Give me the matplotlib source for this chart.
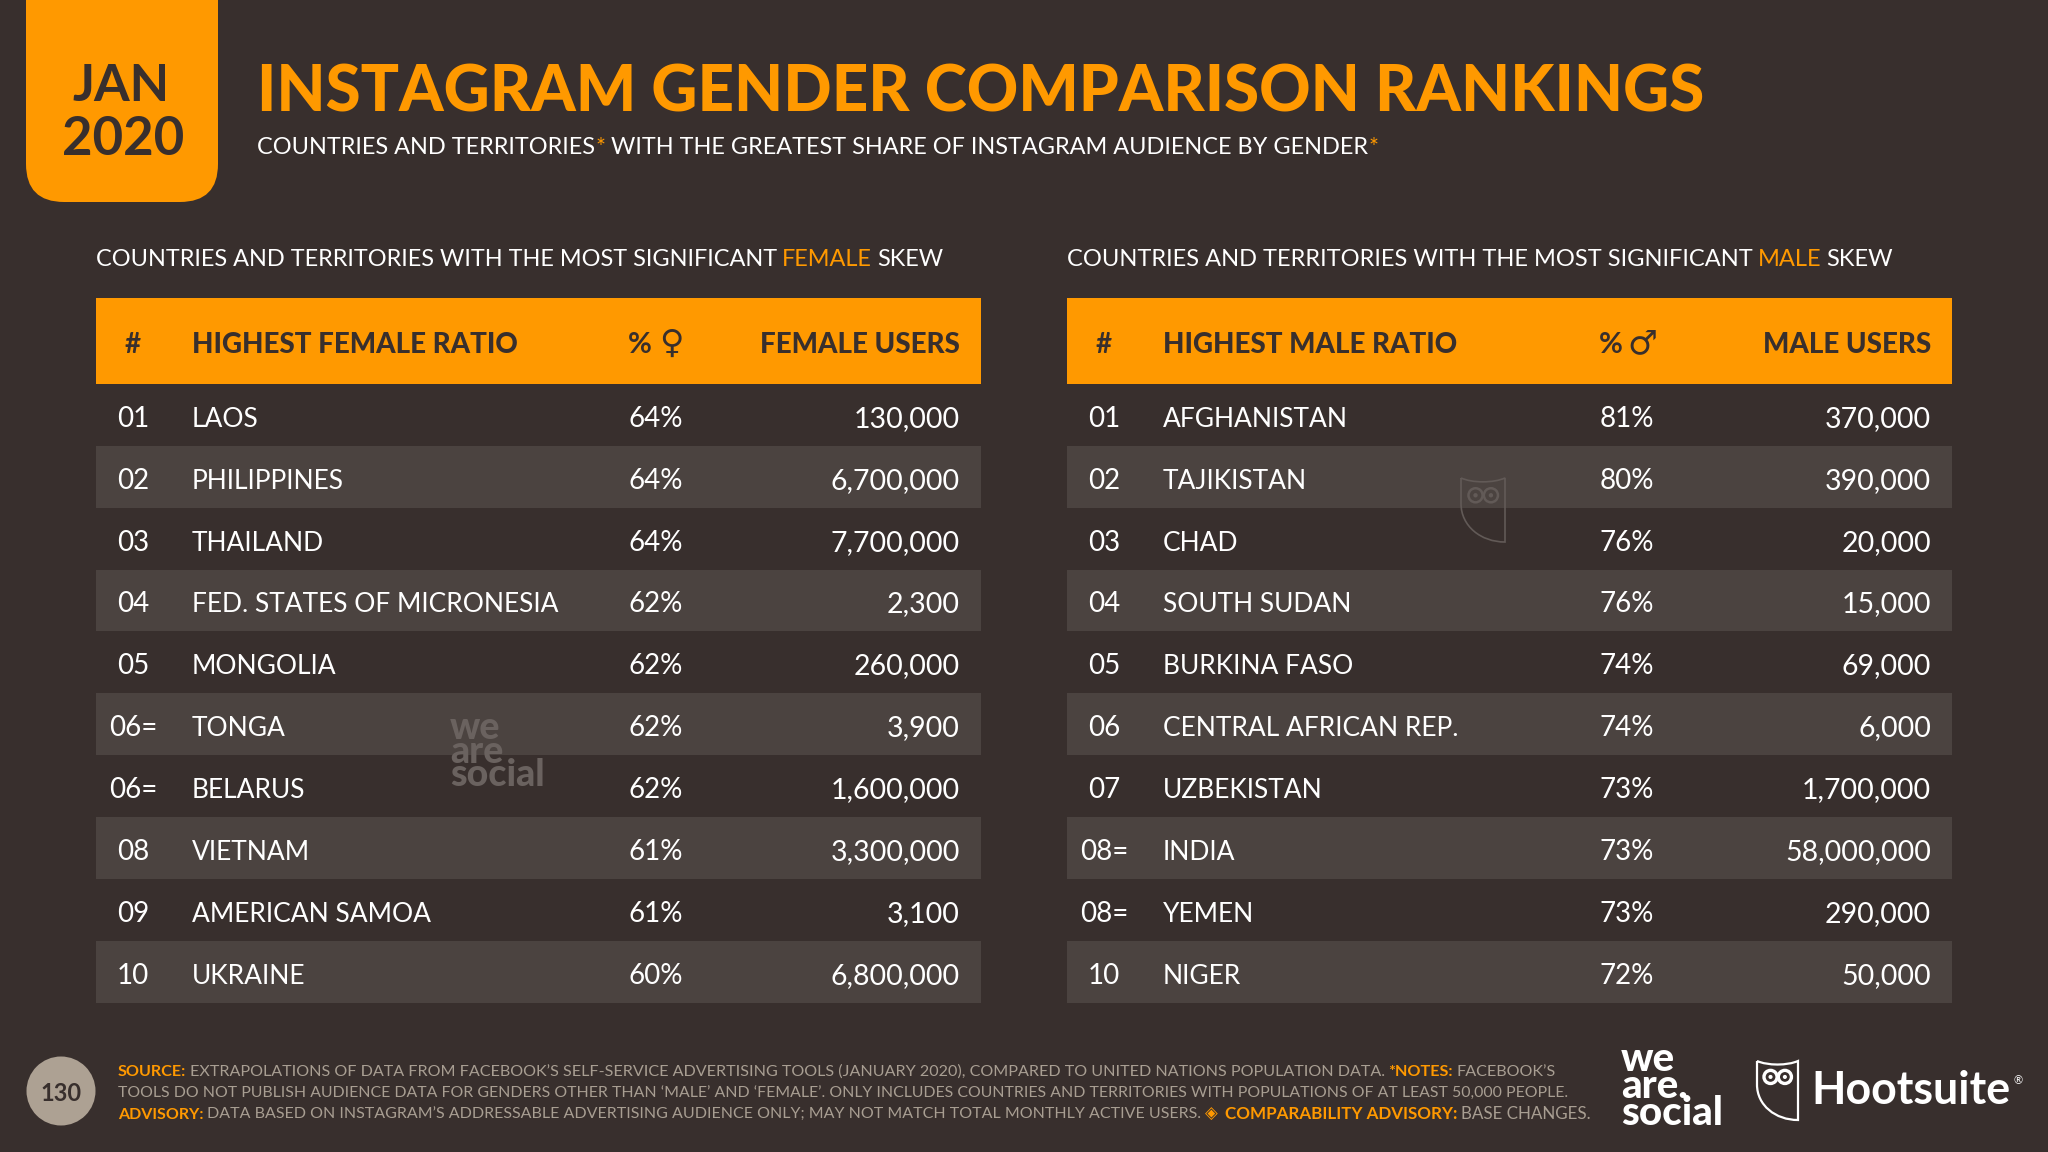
import matplotlib
matplotlib.use("Agg")
import matplotlib.pyplot as plt
from matplotlib.patches import Rectangle, FancyBboxPatch, Circle, PathPatch
from matplotlib.path import Path

BG = "#382F2D"
ORANGE = "#FF9900"
BAND = "#4B4340"
WHITE = "#FFFFFF"
GREY = "#A89E92"
FONT = "Lato"

ranks_f = ["01", "02", "03", "04", "05", "06=", "06=", "08", "09", "10"]
countries_f = ["LAOS", "PHILIPPINES", "THAILAND", "FED. STATES OF MICRONESIA", "MONGOLIA",
               "TONGA", "BELARUS", "VIETNAM", "AMERICAN SAMOA", "UKRAINE"]
pct_f = [64, 64, 64, 62, 62, 62, 62, 61, 61, 60]
users_f = [130000, 6700000, 7700000, 2300, 260000, 3900, 1600000, 3300000, 3100, 6800000]

ranks_m = ["01", "02", "03", "04", "05", "06", "07", "08=", "08=", "10"]
countries_m = ["AFGHANISTAN", "TAJIKISTAN", "CHAD", "SOUTH SUDAN", "BURKINA FASO",
               "CENTRAL AFRICAN REP.", "UZBEKISTAN", "INDIA", "YEMEN", "NIGER"]
pct_m = [81, 80, 76, 76, 74, 74, 73, 73, 73, 72]
users_m = [370000, 390000, 20000, 15000, 69000, 6000, 1700000, 58000000, 290000, 50000]

fig = plt.figure(figsize=(20.48, 11.52), dpi=100, facecolor=BG)
ax = fig.add_axes([0, 0, 1, 1])
ax.set_xlim(0, 2048)
ax.set_ylim(1152, 0)
ax.axis("off")
renderer = fig.canvas.get_renderer()


def put(x, y, s, size, color=WHITE, weight="normal", ha="left", **kw):
    return ax.text(x, y, s, fontsize=size, color=color, fontweight=weight, ha=ha, va="baseline",
                   family=kw.pop("family", FONT), zorder=kw.pop("zorder", 5), **kw)


def run(x, y, segs, size, end=None):
    # segs are (text, colour, weight), drawn one after the other; if end is
    # given the size gets adjusted so the line stops there
    items = [put(x, y, s, size, c, w) for s, c, w in segs]
    gaps = [0.05 if s == "*" else 0.3 for s, c, w in segs[1:]] + [0]

    def widths():
        return [t.get_window_extent(renderer).width for t in items]
    if end is not None:
        for _ in range(3):
            total = sum(widths()) + sum(gaps) * size
            size = size * (end - x) / total
            for t in items:
                t.set_fontsize(size)
    cx = x
    for t, w, g in zip(items, widths(), gaps):
        t.set_x(cx)
        cx += w + g * size


def owl(x0, y0, w, h, color, lw, zorder=3):
    pts = [(0, 0), (0.2, 0.06), (0.5, 0.06), (0.8, 0.06), (1, 0), (1, 1), (0.45, 1), (0, 0.75), (0, 0.4), (0, 0)]
    codes = [Path.MOVETO, Path.CURVE3, Path.CURVE3, Path.CURVE3, Path.CURVE3,
             Path.LINETO, Path.CURVE4, Path.CURVE4, Path.CURVE4, Path.LINETO]
    verts = [(x0 + px * w, y0 + py * h) for px, py in pts]
    ax.add_patch(PathPatch(Path(verts, codes), fc="none", ec=color, lw=lw, zorder=zorder))
    for ex in (0.33, 0.68):
        ax.add_patch(Circle((x0 + ex * w, y0 + 0.27 * h), 0.16 * w, fc="none", ec=color, lw=lw * 1.5, zorder=zorder))
        ax.add_patch(Circle((x0 + ex * w, y0 + 0.27 * h), 0.05 * w, fc=color, ec="none", zorder=zorder))


def table(x0, ranks, countries, pcts, users, name_head, users_head, symbol):
    width = 885
    head_top, head_bottom = 298, 384
    pitch = 61.85
    ax.add_patch(Rectangle((x0, head_top), width, head_bottom - head_top, fc=ORANGE, ec="none", zorder=1))
    put(x0 + 37, 353, "#", 20, BG, "bold", ha="center")
    put(x0 + 96, 353, name_head, 20, BG, "black")
    put(x0 + 532, 353, "%", 21, BG, "bold")
    put(x0 + 575, 353, symbol, 24, BG, "normal", ha="center", family="DejaVu Sans")
    put(x0 + 864, 353, users_head, 20, BG, "black", ha="right")
    for i in range(len(ranks)):
        top = head_bottom + i * pitch
        if i % 2 == 1:
            ax.add_patch(Rectangle((x0, top), width, pitch, fc=BAND, ec="none", zorder=1))
        base = top + pitch / 2 + 12
        put(x0 + 37, base, ranks[i], 20, ha="center")
        put(x0 + 96, base, countries[i], 19)
        put(x0 + 560, base, f"{pcts[i]}%", 20, ha="center")
        put(x0 + 864, base, f"{users[i]:,}", 20.5, ha="right")


# date tab
ax.add_patch(FancyBboxPatch((26, -60), 192, 262, boxstyle="round,pad=0,rounding_size=38", fc=ORANGE, ec="none", zorder=1))
put(121, 101, "JAN", 37, BG, "bold", ha="center")
put(123, 155, "2020", 38, BG, "bold", ha="center")

# title block
run(257, 112, [("INSTAGRAM GENDER COMPARISON RANKINGS", ORANGE, "black")], 46, end=1707)
run(257, 154, [("COUNTRIES AND TERRITORIES", WHITE, "normal"), ("*", ORANGE, "normal"),
               ("WITH THE GREATEST SHARE OF INSTAGRAM AUDIENCE BY GENDER", WHITE, "normal"), ("*", ORANGE, "normal")],
    18, end=1380)

run(96, 266, [("COUNTRIES AND TERRITORIES WITH THE MOST SIGNIFICANT", WHITE, "normal"), ("FEMALE", ORANGE, "normal"),
              ("SKEW", WHITE, "normal")], 18, end=945)
run(1067, 266, [("COUNTRIES AND TERRITORIES WITH THE MOST SIGNIFICANT", WHITE, "normal"), ("MALE", ORANGE, "normal"),
                ("SKEW", WHITE, "normal")], 18, end=1891)

table(96, ranks_f, countries_f, pct_f, users_f, "HIGHEST FEMALE RATIO", "FEMALE USERS", "\u2640")
table(1067, ranks_m, countries_m, pct_m, users_m, "HIGHEST MALE RATIO", "MALE USERS", "\u2642")

# watermarks
put(450, 786, "we\nare\nsocial", 27, "#6A625F", "black", zorder=2, linespacing=0.62)
owl(1461, 478, 44, 64, "#625A57", 1.2, zorder=2)

# footer
ax.add_patch(Circle((61, 1091), 34.5, fc="#ADA193", ec="none", zorder=1))
put(61, 1101, "130", 17, BG, "bold", ha="center")
run(118, 1076, [("SOURCE:", ORANGE, "bold"),
                ("EXTRAPOLATIONS OF DATA FROM FACEBOOK\u2019S SELF-SERVICE ADVERTISING TOOLS (JANUARY 2020), COMPARED TO UNITED NATIONS POPULATION DATA.", GREY, "normal"),
                ("*NOTES:", ORANGE, "bold"), ("FACEBOOK\u2019S", GREY, "normal")], 12.5, end=1557)
run(118, 1098, [("TOOLS DO NOT PUBLISH AUDIENCE DATA FOR GENDERS OTHER THAN \u2018MALE\u2019 AND \u2018FEMALE\u2019. ONLY INCLUDES COUNTRIES AND TERRITORIES WITH POPULATIONS OF AT LEAST 50,000 PEOPLE.", GREY, "normal")],
    12.5, end=1567)
run(118, 1119, [("ADVISORY:", ORANGE, "bold"),
                ("DATA BASED ON INSTAGRAM\u2019S ADDRESSABLE ADVERTISING AUDIENCE ONLY; MAY NOT MATCH TOTAL MONTHLY ACTIVE USERS.", GREY, "normal")],
    12.5, end=1197)
put(1205, 1119, "\u25C8", 12, ORANGE, "normal", family="DejaVu Sans")
run(1225, 1119, [("COMPARABILITY ADVISORY:", ORANGE, "bold"), ("BASE CHANGES.", GREY, "normal")], 12.5, end=1591)

# logos
put(1621, 1125, "we\nare.\nsocial", 29, WHITE, "black", linespacing=0.67)
owl(1757, 1061, 41, 59, WHITE, 1.6)
run(1811, 1104, [("Hootsuite", WHITE, "bold")], 32, end=2010)
put(2013, 1084, "\u00AE", 8, WHITE, "normal")

fig.savefig("out.png", dpi=100, facecolor=BG)
